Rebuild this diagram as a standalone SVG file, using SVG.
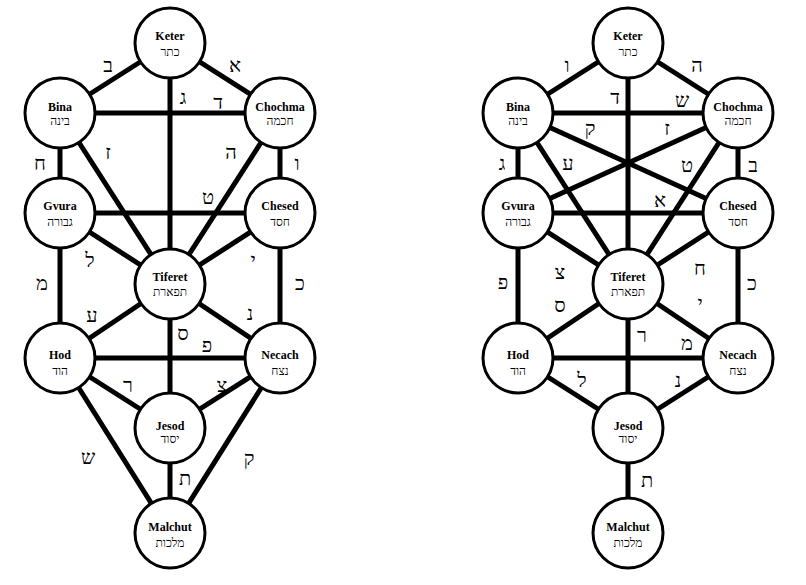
<svg xmlns="http://www.w3.org/2000/svg" width="806" height="585" viewBox="0 0 806 585">
<style>
.e{stroke:#000;stroke-width:5;fill:none}
.n circle{fill:#fff;stroke:#000;stroke-width:3}
.en{font-family:"Liberation Serif","DejaVu Serif",serif;font-weight:bold;font-size:12px;text-anchor:middle;fill:#000}
.he{font-family:"Liberation Serif","DejaVu Serif",serif;font-size:12px;text-anchor:middle;fill:#000}
.l{font-family:"Liberation Serif","DejaVu Serif",serif;font-size:20px;text-anchor:middle;fill:#000}
</style>
<rect width="806" height="585" fill="#fff"/>
<g id="connectors">
<line class="e" x1="170" y1="43" x2="60" y2="113"/>
<line class="e" x1="170" y1="43" x2="280" y2="113"/>
<line class="e" x1="170" y1="43" x2="170" y2="284"/>
<line class="e" x1="60" y1="113" x2="280" y2="113"/>
<line class="e" x1="280" y1="113" x2="170" y2="284"/>
<line class="e" x1="280" y1="113" x2="280" y2="213"/>
<line class="e" x1="60" y1="113" x2="170" y2="284"/>
<line class="e" x1="60" y1="113" x2="60" y2="213"/>
<line class="e" x1="60" y1="213" x2="280" y2="213"/>
<line class="e" x1="280" y1="213" x2="170" y2="284"/>
<line class="e" x1="280" y1="213" x2="280" y2="358"/>
<line class="e" x1="60" y1="213" x2="170" y2="284"/>
<line class="e" x1="60" y1="213" x2="60" y2="358"/>
<line class="e" x1="280" y1="358" x2="170" y2="284"/>
<line class="e" x1="170" y1="284" x2="170" y2="428"/>
<line class="e" x1="60" y1="358" x2="170" y2="284"/>
<line class="e" x1="60" y1="358" x2="280" y2="358"/>
<line class="e" x1="60" y1="358" x2="170" y2="428"/>
<line class="e" x1="280" y1="358" x2="170" y2="428"/>
<line class="e" x1="60" y1="358" x2="170" y2="533"/>
<line class="e" x1="280" y1="358" x2="170" y2="533"/>
<line class="e" x1="170" y1="428" x2="170" y2="533"/>
<line class="e" x1="628" y1="43" x2="518" y2="113"/>
<line class="e" x1="628" y1="43" x2="738" y2="113"/>
<line class="e" x1="628" y1="43" x2="628" y2="284"/>
<line class="e" x1="518" y1="113" x2="738" y2="113"/>
<line class="e" x1="518" y1="113" x2="738" y2="213"/>
<line class="e" x1="738" y1="113" x2="518" y2="213"/>
<line class="e" x1="518" y1="113" x2="628" y2="284"/>
<line class="e" x1="738" y1="113" x2="628" y2="284"/>
<line class="e" x1="518" y1="113" x2="518" y2="213"/>
<line class="e" x1="738" y1="113" x2="738" y2="213"/>
<line class="e" x1="518" y1="213" x2="738" y2="213"/>
<line class="e" x1="518" y1="213" x2="628" y2="284"/>
<line class="e" x1="518" y1="358" x2="628" y2="284"/>
<line class="e" x1="738" y1="213" x2="628" y2="284"/>
<line class="e" x1="738" y1="358" x2="628" y2="284"/>
<line class="e" x1="518" y1="213" x2="518" y2="358"/>
<line class="e" x1="738" y1="213" x2="738" y2="358"/>
<line class="e" x1="628" y1="284" x2="628" y2="428"/>
<line class="e" x1="518" y1="358" x2="738" y2="358"/>
<line class="e" x1="518" y1="358" x2="628" y2="428"/>
<line class="e" x1="738" y1="358" x2="628" y2="428"/>
<line class="e" x1="628" y1="428" x2="628" y2="533"/>
</g>
<g id="path-labels">
<text class="l" x="108" y="72">ב</text>
<text class="l" x="235" y="72">א</text>
<text class="l" x="183" y="104">ג</text>
<text class="l" x="218" y="109">ד</text>
<text class="l" x="108" y="159">ז</text>
<text class="l" x="231" y="159">ה</text>
<text class="l" x="40" y="170">ח</text>
<text class="l" x="297" y="170">ו</text>
<text class="l" x="208" y="204">ט</text>
<text class="l" x="90" y="267">ל</text>
<text class="l" x="253" y="267">י</text>
<text class="l" x="42" y="290">מ</text>
<text class="l" x="300" y="290">כ</text>
<text class="l" x="92" y="322">ע</text>
<text class="l" x="250" y="320">נ</text>
<text class="l" x="183" y="340">ס</text>
<text class="l" x="207" y="352">פ</text>
<text class="l" x="128" y="392">ר</text>
<text class="l" x="222" y="392">צ</text>
<text class="l" x="88" y="464">ש</text>
<text class="l" x="249" y="465">ק</text>
<text class="l" x="185" y="485">ת</text>
<text class="l" x="567" y="72">ו</text>
<text class="l" x="697" y="72">ה</text>
<text class="l" x="615" y="104">ד</text>
<text class="l" x="682" y="107">ש</text>
<text class="l" x="590" y="135">ק</text>
<text class="l" x="667" y="135">ז</text>
<text class="l" x="502" y="170">ג</text>
<text class="l" x="568" y="170">ע</text>
<text class="l" x="687" y="172">ט</text>
<text class="l" x="753" y="172">ב</text>
<text class="l" x="660" y="207">א</text>
<text class="l" x="560" y="279">צ</text>
<text class="l" x="700" y="275">ח</text>
<text class="l" x="503" y="289">פ</text>
<text class="l" x="752" y="290">כ</text>
<text class="l" x="560" y="312">ס</text>
<text class="l" x="700" y="310">י</text>
<text class="l" x="642" y="342">ר</text>
<text class="l" x="687" y="350">מ</text>
<text class="l" x="582" y="387">ל</text>
<text class="l" x="678" y="387">נ</text>
<text class="l" x="647" y="487">ת</text>
</g>
<g id="L-keter" class="n"><circle cx="170" cy="43" r="35"/><text class="en" x="170" y="40">Keter</text><text class="he" x="170" y="56">כתר</text></g>
<g id="L-bina" class="n"><circle cx="60" cy="113" r="35"/><text class="en" x="60" y="111">Bina</text><text class="he" x="60" y="125">בינה</text></g>
<g id="L-chochma" class="n"><circle cx="280" cy="113" r="35"/><text class="en" x="280" y="111">Chochma</text><text class="he" x="280" y="125">חכמה</text></g>
<g id="L-gvura" class="n"><circle cx="60" cy="213" r="35"/><text class="en" x="60" y="210">Gvura</text><text class="he" x="60" y="226">גבורה</text></g>
<g id="L-chesed" class="n"><circle cx="280" cy="213" r="35"/><text class="en" x="280" y="210">Chesed</text><text class="he" x="280" y="226">חסד</text></g>
<g id="L-tiferet" class="n"><circle cx="170" cy="284" r="35"/><text class="en" x="170" y="281">Tiferet</text><text class="he" x="170" y="296">תפארת</text></g>
<g id="L-hod" class="n"><circle cx="60" cy="358" r="35"/><text class="en" x="60" y="359">Hod</text><text class="he" x="60" y="375">הוד</text></g>
<g id="L-necach" class="n"><circle cx="280" cy="358" r="35"/><text class="en" x="280" y="359">Necach</text><text class="he" x="280" y="375">נצח</text></g>
<g id="L-jesod" class="n"><circle cx="170" cy="428" r="35"/><text class="en" x="170" y="430">Jesod</text><text class="he" x="170" y="443">יסוד</text></g>
<g id="L-malchut" class="n"><circle cx="170" cy="533" r="35"/><text class="en" x="170" y="531">Malchut</text><text class="he" x="170" y="547">מלכות</text></g>
<g id="R-keter" class="n"><circle cx="628" cy="43" r="35"/><text class="en" x="628" y="40">Keter</text><text class="he" x="628" y="56">כתר</text></g>
<g id="R-bina" class="n"><circle cx="518" cy="113" r="35"/><text class="en" x="518" y="111">Bina</text><text class="he" x="518" y="125">בינה</text></g>
<g id="R-chochma" class="n"><circle cx="738" cy="113" r="35"/><text class="en" x="738" y="111">Chochma</text><text class="he" x="738" y="125">חכמה</text></g>
<g id="R-gvura" class="n"><circle cx="518" cy="213" r="35"/><text class="en" x="518" y="210">Gvura</text><text class="he" x="518" y="226">גבורה</text></g>
<g id="R-chesed" class="n"><circle cx="738" cy="213" r="35"/><text class="en" x="738" y="210">Chesed</text><text class="he" x="738" y="226">חסד</text></g>
<g id="R-tiferet" class="n"><circle cx="628" cy="284" r="35"/><text class="en" x="628" y="281">Tiferet</text><text class="he" x="628" y="296">תפארת</text></g>
<g id="R-hod" class="n"><circle cx="518" cy="358" r="35"/><text class="en" x="518" y="359">Hod</text><text class="he" x="518" y="375">הוד</text></g>
<g id="R-necach" class="n"><circle cx="738" cy="358" r="35"/><text class="en" x="738" y="359">Necach</text><text class="he" x="738" y="375">נצח</text></g>
<g id="R-jesod" class="n"><circle cx="628" cy="428" r="35"/><text class="en" x="628" y="430">Jesod</text><text class="he" x="628" y="443">יסוד</text></g>
<g id="R-malchut" class="n"><circle cx="628" cy="533" r="35"/><text class="en" x="628" y="531">Malchut</text><text class="he" x="628" y="547">מלכות</text></g>
</svg>
